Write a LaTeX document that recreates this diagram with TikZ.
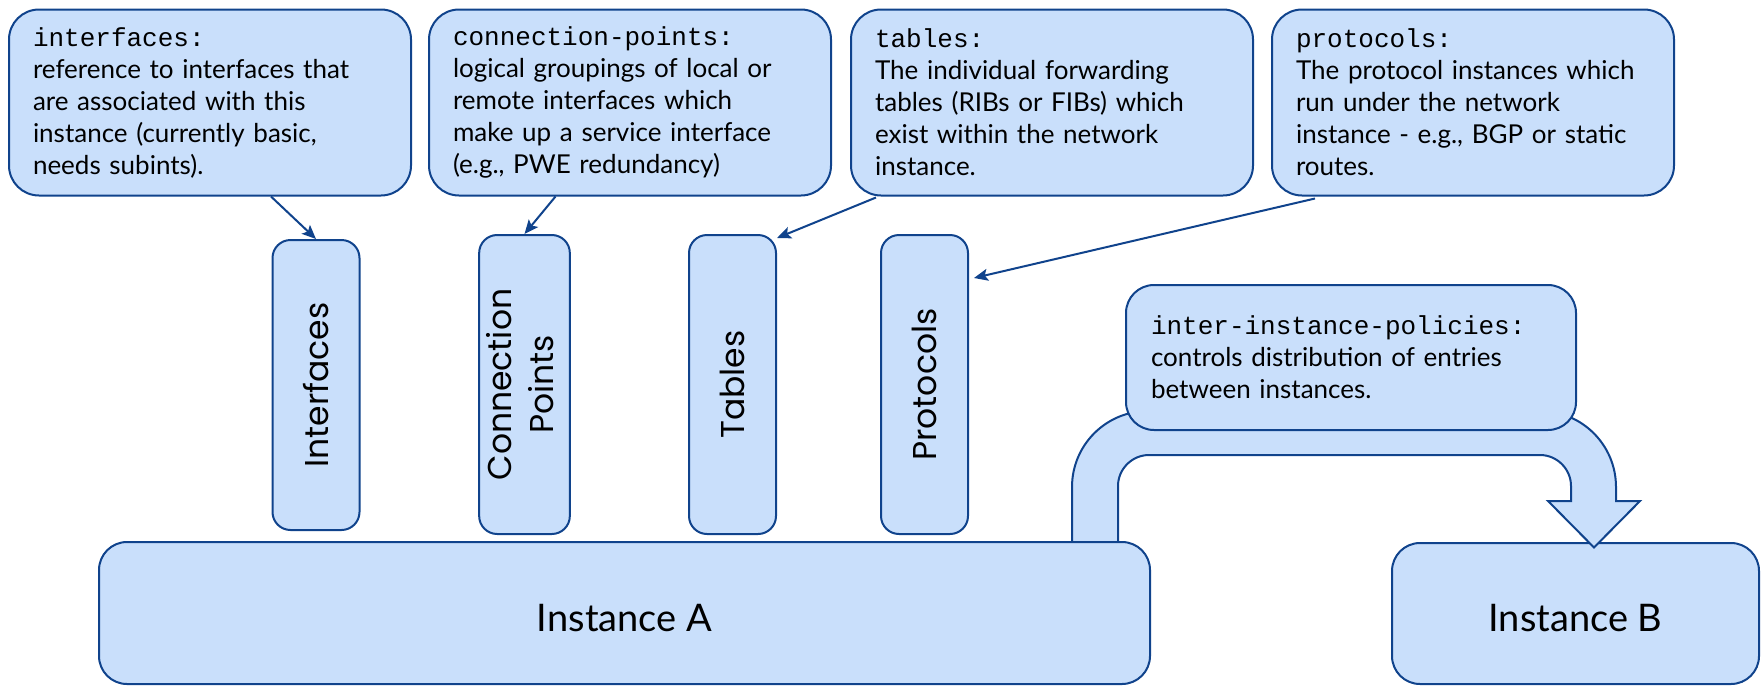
\documentclass[tikz,border=0pt]{standalone}
\usepackage{fontspec}
\setmainfont{Lato}
\newfontfamily\monofont{Liberation Mono}
\newfontfamily\barfont{Poppins}
\usetikzlibrary{arrows.meta}
\definecolor{boxfill}{RGB}{201,223,251}
\definecolor{edge}{RGB}{16,67,140}
\tikzset{
  shapebox/.style={draw=edge, fill=boxfill, line width=2pt},
  topbox/.style={shapebox, rounded corners=30pt, minimum width=402pt,
    minimum height=186pt, text width=354pt, inner xsep=24pt, align=left,
    font=\fontsize{26}{32}\selectfont},
  policybox/.style={shapebox, rounded corners=28pt, minimum width=450pt,
    minimum height=145pt, text width=400pt, inner xsep=25pt, align=left,
    font=\fontsize{26}{32}\selectfont},
  barbox/.style={shapebox, rounded corners=18pt, minimum width=87pt,
    font=\barfont\fontsize{33}{42}\selectfont},
  instbox/.style={shapebox, rounded corners=28pt, font=\fontsize{38}{44}\selectfont},
  conn/.style={draw=edge, line width=2pt, -{Stealth[length=14pt,width=12pt,inset=3pt]}}
}
\newcommand{\kw}[1]{{\monofont\fontsize{26}{32}\selectfont #1}}
\newcommand{\instlabel}[1]{\raisebox{-18pt}[0pt][0pt]{#1}}
\begin{document}
\begin{tikzpicture}[x=1pt,y=-1pt]
\useasboundingbox (0,0) rectangle (1761,686);

% description boxes along the top
\node[topbox, anchor=north west] (ifc) at (8,8.5)
  {\kw{interfaces:}\\reference to interfaces that\\are associated with this\\instance (currently basic,\\needs subints).};
\node[topbox, anchor=north west] (cpt) at (428,8.5)
  {\kw{connection-points:}\\logical groupings of local or\\remote interfaces which\\make up a service interface\\(e.g., PWE redundancy)};
\node[topbox, anchor=north west] (tbl) at (850,8.5)
  {\kw{tables:}\\The individual forwarding\\tables (RIBs or FIBs) which\\exist within the network\\instance.};
\node[topbox, anchor=north west] (prt) at (1271,8.5)
  {\kw{protocols:}\\The protocol instances which\\run under the network\\instance - e.g., BGP or static\\routes.};

% vertical component bars
\node[barbox, minimum height=290pt] (ifbar) at (316,385) {\rotatebox{90}{Interfaces}};
\node[barbox, minimum height=299pt] (cpbar) at (524.5,384.5)
  {\rotatebox{90}{\begin{tabular}{@{}c@{}}Connection\\Points\end{tabular}}};
\node[barbox, minimum height=299pt] (tbbar) at (732.5,384.5) {\rotatebox{90}{Tables}};
\node[barbox, minimum height=299pt] (prbar) at (924.5,384.5) {\rotatebox{90}{Protocols}};

% connectors from descriptions to bars
\draw[conn] ([xshift=61pt]ifc.south) -- (ifbar.north);
\draw[conn] ([xshift=-74.5pt]cpt.south) -- (cpbar.north);
\draw[conn] ([xshift=-176pt,yshift=-1pt]tbl.south) -- ([yshift=-4pt]tbbar.north east);
\draw[conn] ([xshift=-158pt,yshift=-2pt]prt.south) -- ([xshift=5pt,yshift=-44pt]prbar.north east);

% target instance
\node[instbox, minimum width=367pt, minimum height=141pt] (instB) at (1575.5,613.5) {\instlabel{Instance B}};

% bent block arrow between the instances
\filldraw[shapebox, line join=miter]
  (1072,545) -- (1072,487)
  .. controls (1072,445) and (1106,411) .. (1148,411)
  -- (1540,411)
  .. controls (1582,411) and (1616,445) .. (1616,487)
  -- (1616,501) -- (1640,501) -- (1594,547.5) -- (1548,501) -- (1571,501) -- (1571,486)
  .. controls (1571,469) and (1557,455) .. (1540,455)
  -- (1149,455)
  .. controls (1132,455) and (1118,469) .. (1118,486)
  -- (1118,545) -- cycle;

% source instance
\node[instbox, minimum width=1051pt, minimum height=142pt] (instA) at (624.5,613) {\instlabel{Instance A}};

% policy description on the arrow
\node[policybox, anchor=north west] (pol) at (1125,284)
  {\kw{inter-instance-policies:}\\controls distribution of entries\\between instances.};
\end{tikzpicture}
\end{document}
